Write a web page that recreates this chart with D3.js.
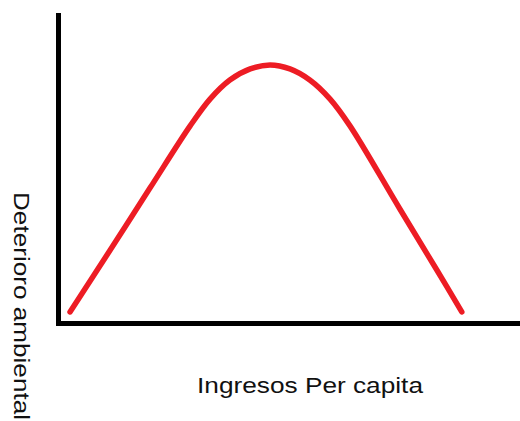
<!DOCTYPE html>
<html>
<head>
<meta charset="utf-8">
<script src="https://cdn.jsdelivr.net/npm/d3@7"></script>
<style>
  html, body { margin: 0; padding: 0; background: #fff; }
  svg { display: block; }
</style>
</head>
<body>
<script>
var width = 520, height = 421;

// curve (x: ingresos, y: deterioro), 0-100 units
var ingresos  = [2.6, 11.3, 19.9, 28.6, 32.9, 37.2, 41.6, 45.9, 50.2, 54.5, 58.9, 63.2, 74.0, 82.0, 87.4];
var deterioro = [3.6, 23.7, 43.8, 64.0, 72.7, 78.9, 82.5, 83.8, 82.5, 78.9, 72.7, 64.0, 37.0, 17.2, 3.6];

var xLabel = "Ingresos Per capita";
var yLabel = "Deterioro ambiental";

var curveColor = "#ed1c24";
var axisColor = "#000";

var svg = d3.select("body").append("svg")
    .attr("width", width)
    .attr("height", height);

var x = d3.scaleLinear().domain([0, 100]).range([58, 520]);
var y = d3.scaleLinear().domain([0, 100]).range([323, 15]);

// axes: only the domain lines, no ticks
svg.append("g")
    .attr("transform", "translate(0," + y(0) + ")")
    .call(d3.axisBottom(x).ticks(0).tickSizeOuter(0));
svg.append("g")
    .attr("transform", "translate(" + x(0) + ",0)")
    .call(d3.axisLeft(y).ticks(0).tickSizeOuter(0));

svg.selectAll(".domain")
    .attr("stroke", axisColor)
    .attr("stroke-width", 5)
    .attr("stroke-linecap", "square");

// the curve
var points = ingresos.map(function (d, i) { return [d, deterioro[i]]; });
var line = d3.line()
    .x(function (d) { return x(d[0]); })
    .y(function (d) { return y(d[1]); })
    .curve(d3.curveCatmullRom.alpha(0.5));

svg.append("path")
    .datum(points)
    .attr("d", line)
    .attr("fill", "none")
    .attr("stroke", curveColor)
    .attr("stroke-width", 5.5)
    .attr("stroke-linecap", "round")
    .attr("stroke-linejoin", "round");

// labels
svg.append("text")
    .attr("x", 197)
    .attr("y", 393)
    .attr("font-family", "Liberation Sans, Arial, sans-serif")
    .attr("font-size", 22)
    .attr("fill", "#111")
    .attr("textLength", 226)
    .attr("lengthAdjust", "spacingAndGlyphs")
    .text(xLabel);

svg.append("text")
    .attr("transform", "translate(14,192) rotate(90)")
    .attr("font-family", "Liberation Sans, Arial, sans-serif")
    .attr("font-size", 22)
    .attr("fill", "#111")
    .attr("textLength", 228)
    .attr("lengthAdjust", "spacingAndGlyphs")
    .text(yLabel);
</script>
</body>
</html>
